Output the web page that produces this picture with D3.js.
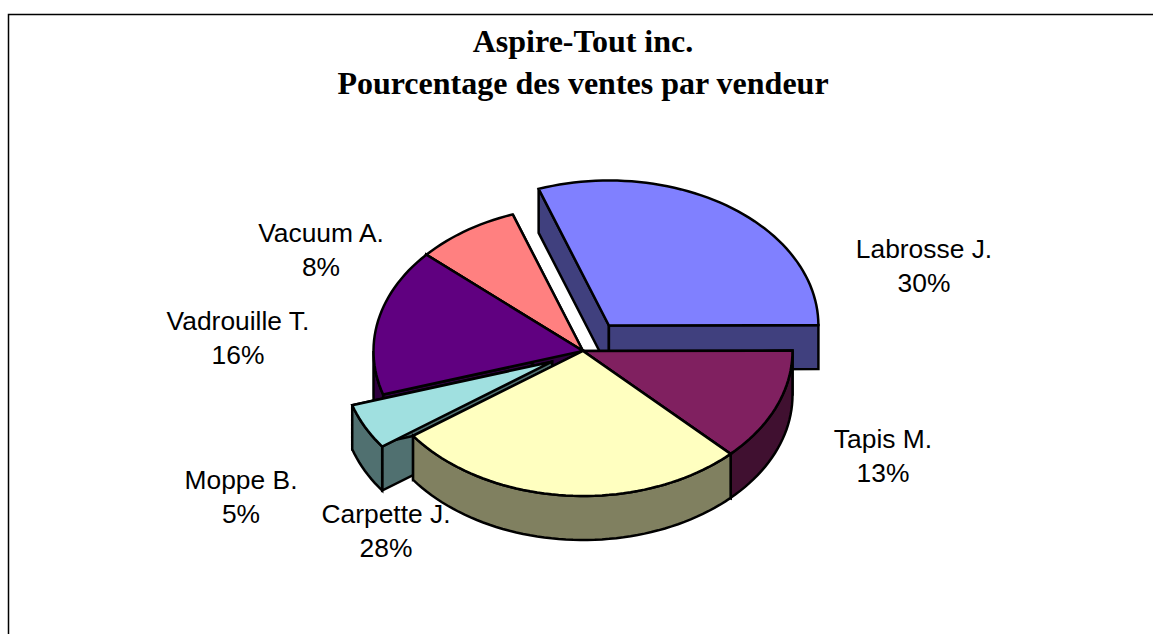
<!DOCTYPE html>
<html>
<head>
<meta charset="utf-8">
<script src="https://cdnjs.cloudflare.com/ajax/libs/d3/7.8.5/d3.min.js"></script>
<style>
  html, body { margin: 0; padding: 0; background: #fff; }
  svg { display: block; }
  .title { font-family: "Liberation Serif", serif; font-weight: bold; font-size: 32px; text-anchor: middle; }
  .label { font-family: "Liberation Sans", sans-serif; font-size: 26.4px; text-anchor: middle; }
</style>
</head>
<body>
<div id="chart"></div>
<script>
const titleLines = ["Aspire-Tout inc.", "Pourcentage des ventes par vendeur"];
const sellers = ["Labrosse J.", "Tapis M.", "Carpette J.", "Moppe B.", "Vadrouille T.", "Vacuum A."];
const shares = [30.4, 12.6, 27.5, 5.1, 16.4, 8.0];
const explode = [0.215, 0, 0, 0.165, 0, 0];

const topColors = ["#8080ff", "#802060", "#ffffc0", "#a0e0e0", "#600080", "#ff8080"];
const sideColors = ["#40407e", "#401030", "#808060", "#507070", "#300040", "#804040"];

const width = 1153, height = 634;
const cx = 583, cy = 351, rx = 209.5, ry = 145, depth = 44;

// painter's order, back to front
const drawOrder = [0, 5, 4, 1, 3, 2];
// label centre x and first baseline
const labelPos = [[924, 258], [883, 448], [386, 523], [241, 489], [238, 330], [321, 242]];

const rad = d => d * Math.PI / 180;

const x = d3.scaleLinear().domain([-1, 1]).range([cx - rx, cx + rx]);
const y = d3.scaleLinear().domain([-1, 1]).range([cy + ry, cy - ry]);

const pie = d3.pie().sort(null).startAngle(rad(-19.6)).endAngle(rad(340.4));
const slices = pie(shares);

const line = d3.line().x(d => x(d[0])).y(d => y(d[1]) + (d[2] || 0));

// rim points in unit coords, with the explode shift and a vertical drop in px
function rim(a0, a1, off, drop) {
  const n = Math.max(2, Math.ceil((a1 - a0) / rad(2)));
  return d3.range(n + 1).map(i => {
    const a = a0 + (a1 - a0) * i / n;
    return [off[0] + Math.sin(a), off[1] + Math.cos(a), drop];
  });
}

const svg = d3.select("#chart").append("svg").attr("width", width).attr("height", height);

svg.append("path")
  .attr("d", `M8.5,${height}V14.5H${width}`)
  .attr("fill", "none").attr("stroke", "#000").attr("stroke-width", 1.5);

const title = svg.append("g");
titleLines.forEach((t, i) => {
  title.append("text").attr("class", "title").attr("x", cx).attr("y", 52 + i * 42).text(t);
});

function face(g, pts, fill) {
  g.append("path")
    .attr("d", line(pts) + "Z")
    .attr("fill", fill)
    .attr("stroke", "#000")
    .attr("stroke-width", 2.5)
    .attr("stroke-linejoin", "miter");
}

drawOrder.forEach(i => {
  const s = slices[i];
  const mid = (s.startAngle + s.endAngle) / 2;
  const off = [Math.sin(mid) * explode[i], Math.cos(mid) * explode[i]];
  const apex = [off[0], off[1]];
  const g = svg.append("g").attr("class", "slice");

  // the two cut walls
  [s.startAngle, s.endAngle].forEach(a => {
    const p = [off[0] + Math.sin(a), off[1] + Math.cos(a)];
    face(g, [apex, p, [p[0], p[1], depth], [apex[0], apex[1], depth]], sideColors[i]);
  });

  // outer wall, only the part facing the viewer
  const a0 = Math.max(s.startAngle, rad(90)), a1 = Math.min(s.endAngle, rad(270));
  if (a1 > a0) {
    face(g, rim(a0, a1, off, 0).concat(rim(a0, a1, off, depth).reverse()), sideColors[i]);
  }

  // top
  face(g, [apex].concat(rim(s.startAngle, s.endAngle, off, 0)), topColors[i]);
});

sellers.forEach((name, i) => {
  const t = svg.append("text").attr("class", "label")
    .attr("x", labelPos[i][0]).attr("y", labelPos[i][1]);
  t.append("tspan").text(name);
  t.append("tspan").attr("x", labelPos[i][0]).attr("dy", 34).text(Math.round(shares[i]) + "%");
});
</script>
</body>
</html>
